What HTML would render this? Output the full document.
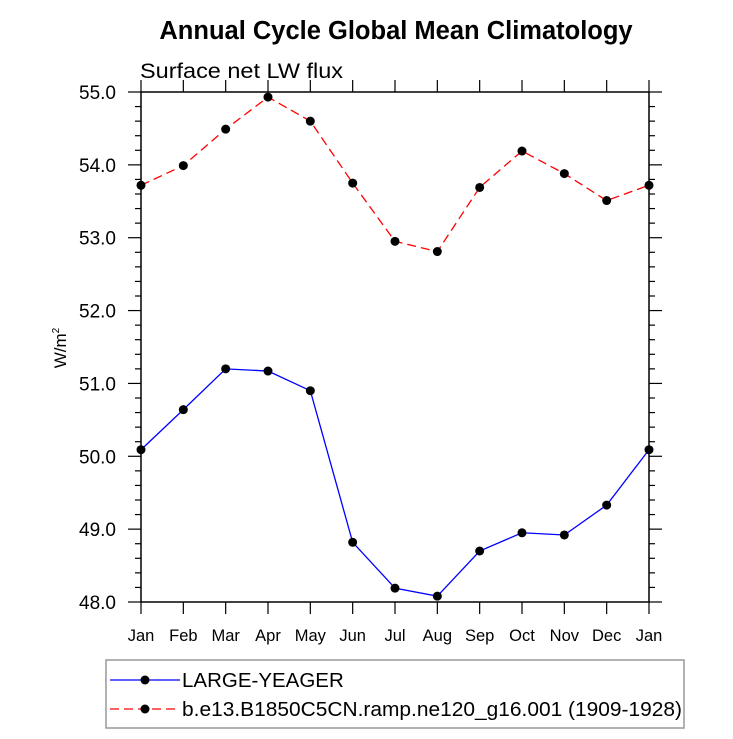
<!DOCTYPE html>
<html><head><meta charset="utf-8"><style>
body{margin:0;background:#fff}
text{font-family:"Liberation Sans",Arial,sans-serif}
</style></head><body>
<svg id="c" width="733" height="734" xmlns="http://www.w3.org/2000/svg">
<text x="396" y="39" text-anchor="middle" font-size="25.5" font-weight="bold">Annual Cycle Global Mean Climatology</text>
<text x="140" y="78" font-size="21.5" textLength="203" lengthAdjust="spacingAndGlyphs">Surface net LW flux</text>
<text transform="translate(66,348) rotate(-90)" text-anchor="middle" font-size="17">W/m<tspan font-size="10" dy="-7">2</tspan></text>
<g id="axes"></g>
<g id="series"></g>
<rect x="106" y="660" width="578" height="68" fill="none" stroke="#999" stroke-width="1.5"/>
<g>
<line x1="110" y1="680" x2="180" y2="680" stroke="#00f" stroke-width="1.2"/>
<circle cx="145" cy="680" r="4.5" fill="#000"/>
<text x="182" y="687" font-size="20.5">LARGE-YEAGER</text></g>
<g>
<line x1="110" y1="709" x2="180" y2="709" stroke="#f00" stroke-width="1.2" stroke-dasharray="9,5"/>
<circle cx="145" cy="709" r="4.5" fill="#000"/>
<text x="182" y="716" font-size="20.5" textLength="500" lengthAdjust="spacingAndGlyphs">b.e13.B1850C5CN.ramp.ne120_g16.001 (1909-1928)</text></g>
</svg>
<script>
const months=["Jan","Feb","Mar","Apr","May","Jun","Jul","Aug","Sep","Oct","Nov","Dec","Jan"];
const yTicks=[48,49,50,51,52,53,54,55];
const largeYeager=[50.09,50.64,51.20,51.17,50.90,48.82,48.19,48.08,48.70,48.95,48.92,49.33,50.09];
const b1850=[53.72,53.99,54.49,54.93,54.60,53.75,52.95,52.81,53.69,54.19,53.88,53.51,53.72];
const X0=141,X1=649,Y0=602,Y1=92,YMIN=48,YMAX=55;
const sx=i=>X0+(X1-X0)*i/(months.length-1);
const sy=v=>Y0-(Y0-Y1)*(v-YMIN)/(YMAX-YMIN);
const NS="http://www.w3.org/2000/svg";
function mk(t,a,p){const e=document.createElementNS(NS,t);for(const k in a)e.setAttribute(k,a[k]);p.appendChild(e);return e;}
const ax=document.getElementById('axes');
const frame=mk('rect',{x:X0,y:Y1,width:X1-X0,height:Y0-Y1,fill:'none',stroke:'#000','stroke-width':1.5},ax);


months.forEach((m,i)=>{const x=sx(i);
mk('line',{x1:x,y1:Y0,x2:x,y2:Y0+12,stroke:'#000','stroke-width':1.2},ax);
mk('line',{x1:x,y1:Y1,x2:x,y2:Y1-12,stroke:'#000','stroke-width':1.2},ax);
const t=mk('text',{x:x,y:Y0+39,'text-anchor':'middle','font-size':16.5},ax);t.textContent=m;

});
for(let v=YMIN;v<=YMAX+1e-9;v+=0.2){const y=sy(v);const major=Math.abs(v-Math.round(v))<1e-6;const L=major?13:6;
mk('line',{x1:X0-L,y1:y,x2:X0,y2:y,stroke:'#000','stroke-width':1.2},ax);
mk('line',{x1:X1,y1:y,x2:X1+L,y2:y,stroke:'#000','stroke-width':1.2},ax);}
yTicks.forEach(v=>{const t=mk('text',{x:X0-25,y:sy(v)+7,'text-anchor':'end','font-size':19},ax);t.textContent=v.toFixed(1);

});
const sg=document.getElementById('series');
function draw(d,col,dash,name){const g=mk('g',{},sg);


const a={points:d.map((v,i)=>sx(i)+','+sy(v)).join(' '),fill:'none',stroke:col,'stroke-width':1.3};if(dash)a['stroke-dasharray']=dash;
mk('polyline',a,g);
d.forEach((v,i)=>{const c=mk('circle',{cx:sx(i),cy:sy(v),r:4.5,fill:'#000'},g);

});}
draw(largeYeager,'#00f',null,'series-large-yeager');
draw(b1850,'#f00','9,5','series-b-e13');
</script>
</body></html>
